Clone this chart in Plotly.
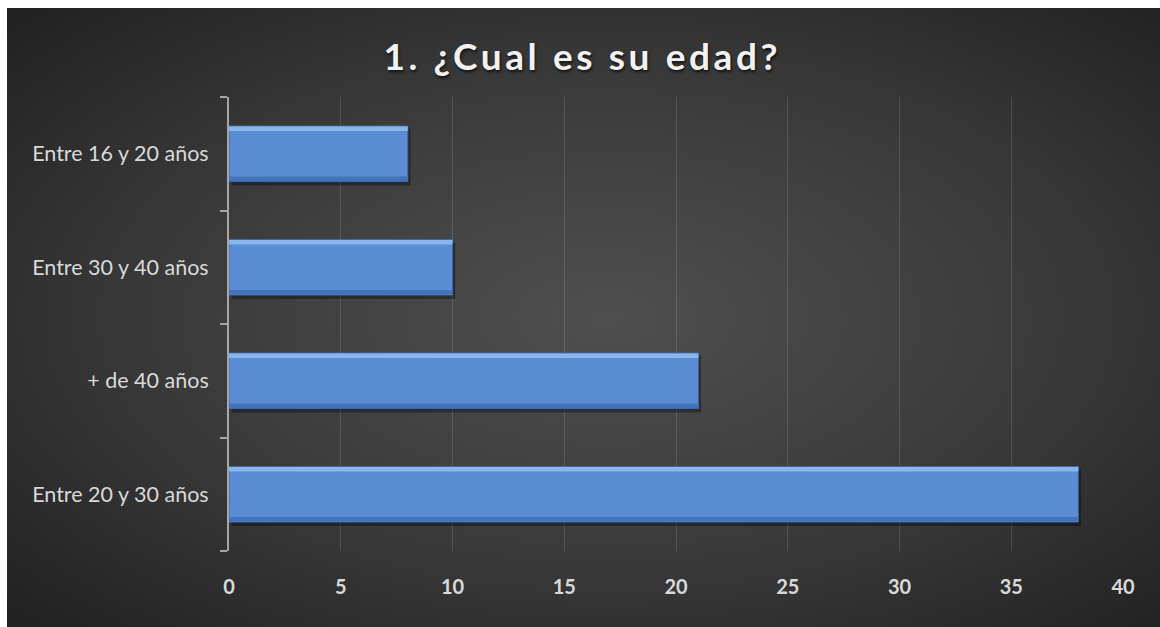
import base64
import plotly.graph_objects as go

# Survey results: age groups and respondent counts (listed bottom to top)
categorias = ["Entre 20 y 30 años", "+ de 40 años", "Entre 30 y 40 años", "Entre 16 y 20 años"]
respuestas = [38, 21, 10, 8]
x_ticks = [0, 5, 10, 15, 20, 25, 30, 35, 40]

titulo = "1. ¿Cual es su edad?"

# Radial gradient backdrop for the chart frame
svg = """<svg xmlns='http://www.w3.org/2000/svg' width='1153' height='619' preserveAspectRatio='none'>
<defs><radialGradient id='g' cx='52%' cy='50%' r='70%'>
<stop offset='0%' stop-color='#4f4f4f'/>
<stop offset='55%' stop-color='#3a3a3a'/>
<stop offset='100%' stop-color='#222222'/>
</radialGradient></defs>
<rect width='1153' height='619' fill='url(#g)'/></svg>"""
bg_src = "data:image/svg+xml;base64," + base64.b64encode(svg.encode()).decode()

W, H = 1160, 627
L, R, T, B = 229, 37, 97, 76
pw, ph = W - L - R, H - T - B

fig = go.Figure()

# soft drop shadow behind each bar
fig.add_trace(go.Bar(
    y=categorias, x=respuestas, base=[0.12] * len(respuestas), orientation="h",
    width=0.5, offset=-0.28, marker=dict(color="rgba(0,0,0,0.35)", line_width=0),
    hoverinfo="skip", showlegend=False,
))
# main bars
fig.add_trace(go.Bar(
    y=categorias, x=respuestas, orientation="h", width=0.49, offset=-0.245,
    marker=dict(color="#5a8dd3", line=dict(color="#3b69a8", width=1)),
    showlegend=False,
))
# bevel highlight along the top edge
fig.add_trace(go.Bar(
    y=categorias, x=respuestas, orientation="h", width=0.04, offset=0.2,
    marker=dict(color="#8ab6f0", line_width=0), hoverinfo="skip", showlegend=False,
))
# bevel shade along the bottom edge
fig.add_trace(go.Bar(
    y=categorias, x=respuestas, orientation="h", width=0.04, offset=-0.24,
    marker=dict(color="#4474b8", line_width=0), hoverinfo="skip", showlegend=False,
))

fig.update_layout(
    width=W, height=H,
    margin=dict(l=L, r=R, t=T, b=B),
    paper_bgcolor="white",
    plot_bgcolor="rgba(0,0,0,0)",
    barmode="overlay",
    font=dict(family="Lato", color="#d9d9d9"),
    title=dict(
        text=titulo, x=0.502, xanchor="center", y=1 - 57 / H, yanchor="middle",
        font=dict(family="Lato", size=37, weight="bold", color="#f2f2f2",
                  shadow="1px 2px 3px rgba(0,0,0,0.7)"),
    ),
    xaxis=dict(
        range=[0, 40], tickvals=x_ticks, showgrid=True,
        gridcolor="rgba(255,255,255,0.13)", gridwidth=1, zeroline=False,
        showline=False, ticks="", ticklabelstandoff=22,
        tickfont=dict(family="Lato", size=20, weight="bold", color="#d9d9d9"),
    ),
    yaxis=dict(
        categoryorder="array", categoryarray=categorias, range=[-0.5, 3.5],
        showline=True, linecolor="#a6a6a6", linewidth=2,
        ticks="outside", ticklen=7, tickwidth=2, tickcolor="#a6a6a6",
        tickson="boundaries", showgrid=False, ticklabelstandoff=14,
        tickfont=dict(family="Lato", size=21.5, color="#d9d9d9"),
    ),
    images=[dict(
        source=bg_src, xref="paper", yref="paper",
        x=(7 - L) / pw, y=(H - 8 - B) / ph,
        sizex=(W - 7) / pw, sizey=(H - 8) / ph,
        xanchor="left", yanchor="top", sizing="stretch", layer="below",
    )],
)

fig.write_html(
    "out.html",
    post_script="document.querySelectorAll('.gtitle').forEach(function(e){e.style.letterSpacing='3.6px';});",
)
